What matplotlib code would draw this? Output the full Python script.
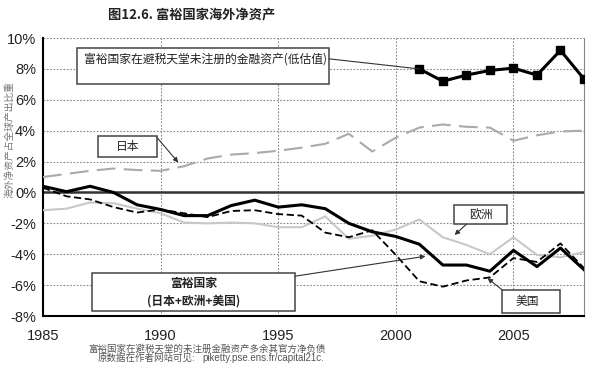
import numpy as np
import matplotlib.pyplot as plt
from matplotlib.patches import Rectangle

plt.rcParams['font.family'] = ['Noto Sans CJK SC', 'DejaVu Sans']

years = np.arange(1985, 2009)

# net foreign assets, % of world output
japan = [1.0, 1.2, 1.4, 1.55, 1.45, 1.4, 1.7, 2.2, 2.45, 2.55, 2.7, 2.9,
         3.15, 3.8, 2.65, 3.55, 4.2, 4.4, 4.25, 4.2, 3.35, 3.7, 3.95, 4.0]
rich = [0.4, 0.05, 0.4, 0.0, -0.8, -1.1, -1.5, -1.5, -0.85, -0.5, -0.95, -0.8,
        -1.05, -2.0, -2.55, -2.85, -3.35, -4.7, -4.7, -5.1, -3.75, -4.8, -3.6, -5.0]
usa = [0.3, -0.25, -0.45, -0.95, -1.3, -1.1, -1.35, -1.6, -1.2, -1.15, -1.4, -1.5,
       -2.6, -2.9, -2.45, -4.05, -5.75, -6.1, -5.7, -5.5, -4.25, -4.5, -3.3, -4.9]
europe = [-1.15, -1.05, -0.65, -0.7, -1.05, -1.35, -1.95, -2.0, -1.95, -2.0, -2.25, -2.25,
          -1.55, -3.0, -2.8, -2.4, -1.75, -2.9, -3.4, -4.0, -2.9, -4.05, -4.2, -3.85]
haven_years = np.arange(2001, 2009)
haven = [8.0, 7.2, 7.6, 7.9, 8.05, 7.6, 9.2, 7.35]

fig = plt.figure(figsize=(6, 3.68), dpi=100)
ax = fig.add_axes([0.0717, 0.1413, 0.9016, 0.7554])

ax.grid(True, color='#888888', linestyle=(0, (1.5, 1.5)), linewidth=0.8)
ax.axhline(0, color='#333333', linewidth=1.8, zorder=2)

ax.plot(years, japan, color='#aaaaaa', linewidth=1.5, dashes=(9, 4), zorder=3)
ax.plot(years, europe, color='#c8c8c8', linewidth=1.5, zorder=3)
ax.plot(years, usa, color='black', linewidth=1.3, dashes=(4, 2), zorder=4)
ax.plot(years, rich, color='black', linewidth=2.2, zorder=5)
ax.plot(haven_years, haven, color='black', linewidth=2.2, marker='s',
        markersize=6, zorder=5)

ax.set_xlim(1985, 2008)
ax.set_ylim(-8, 10)
ax.set_xticks([1985, 1990, 1995, 2000, 2005])
ax.set_yticks(np.arange(-8, 11, 2))
ax.set_yticklabels(['%d%%' % v for v in range(-8, 11, 2)])
ax.tick_params(axis='x', length=0, labelsize=10.5, pad=9, labelcolor='#222222')
ax.tick_params(axis='y', length=0, labelsize=10.5, pad=5, labelcolor='#222222')
for lab in ax.get_xticklabels() + ax.get_yticklabels():
    lab.set_family('Liberation Sans')

ax.spines['left'].set_color('black')
ax.spines['left'].set_linewidth(1.5)
ax.spines['bottom'].set_color('black')
ax.spines['bottom'].set_linewidth(1.5)
ax.spines['right'].set_color('#888888')
ax.spines['top'].set_visible(False)


def label_box(x0, x1, y0, y1):
    ax.add_patch(Rectangle((x0, y0), x1 - x0, y1 - y0, facecolor='white',
                           edgecolor='#444444', linewidth=1.1, zorder=6))


def pointer(start, end, head=True):
    style = '-|>' if head else '-'
    ax.annotate('', xy=end, xytext=start,
                arrowprops=dict(arrowstyle=style, color='#333333', lw=0.8,
                                mutation_scale=7, shrinkA=0, shrinkB=0), zorder=7)


# tax haven box
label_box(1986.45, 1997.17, 7.03, 9.35)
ax.text(1986.75, 8.65, '富裕国家在避税天堂未注册的金融资产(低估值)', fontsize=8.5,
        color='#222222', va='center', ha='left', zorder=7)
pointer((1997.17, 8.65), (2001, 8.0), head=False)

# Japan
label_box(1987.34, 1989.85, 2.32, 3.68)
ax.text(1988.6, 3.0, '日本', fontsize=8.5, color='#222222', va='center', ha='center', zorder=7)
pointer((1989.85, 3.55), (1990.75, 1.94))

# Europe
label_box(2002.49, 2004.74, -2.06, -0.84)
ax.text(2003.6, -1.45, '欧洲', fontsize=8.5, color='#222222', va='center', ha='center', zorder=7)
pointer((2003.0, -2.06), (2002.5, -2.75))

# United States
label_box(2004.53, 2007.0, -7.81, -6.32)
ax.text(2005.6, -7.07, '美国', fontsize=8.5, color='#222222', va='center', ha='center', zorder=7)
pointer((2004.53, -6.32), (2003.9, -5.55))

# rich countries
label_box(1987.09, 1995.72, -7.68, -5.23)
ax.text(1991.4, -6.45, '富裕国家\n(日本+欧洲+美国)', fontsize=8.5, fontweight='bold',
        color='#222222', va='center', ha='center', linespacing=1.4, zorder=7)
pointer((1995.72, -5.42), (2001.26, -4.13))

fig.text(0.32, 0.958, '图12.6. 富裕国家海外净资产', fontsize=9.5, fontweight='bold',
         ha='center', va='center', color='#222222')
fig.text(0.016, 0.62, '海外净资产占全球产出比重', rotation=90, fontsize=7,
         ha='center', va='center', color='#777777')
fig.text(0.345, 0.052, '富裕国家在避税天堂的未注册金融资产多余其官方净负债',
         fontsize=6.8, ha='center', va='center', color='#555555')
fig.text(0.162, 0.027, '原数据在作者网站可见:', fontsize=6.8, ha='left', va='center',
         color='#555555')
fig.text(0.337, 0.027, 'piketty.pse.ens.fr/capital21c.', fontsize=7, ha='left',
         va='center', color='#555555', family='Liberation Sans')

fig.savefig('out.png', dpi=100)
